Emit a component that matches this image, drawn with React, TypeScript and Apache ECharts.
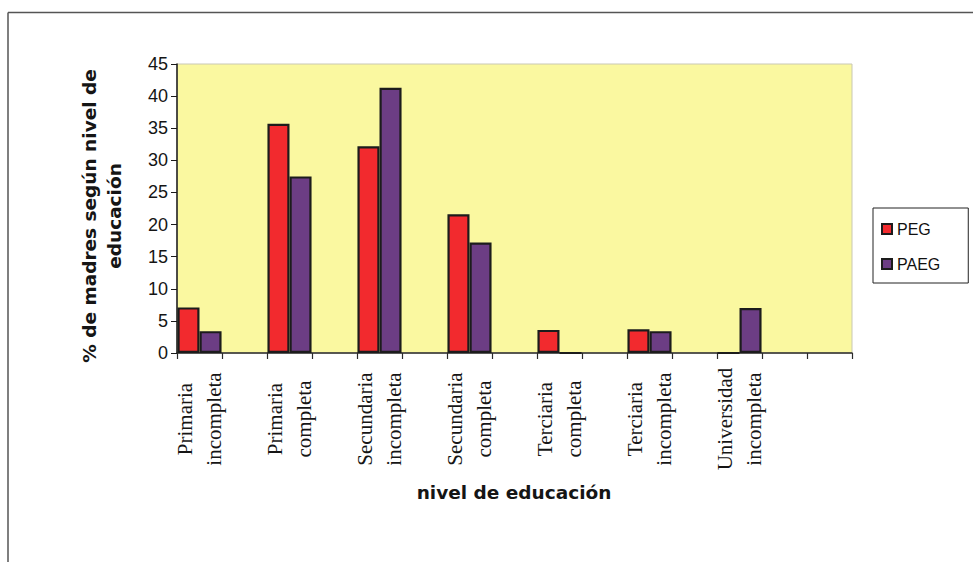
import React, { useEffect, useRef } from "react";
import * as echarts from "echarts";

const categories = [
  "Primaria\nincompleta",
  "Primaria\ncompleta",
  "Secundaria\nincompleta",
  "Secundaria\ncompleta",
  "Terciaria\ncompleta",
  "Terciaria\nincompleta",
  "Universidad\nincompleta",
];
const pegValues = [7.1, 35.7, 32.2, 21.6, 3.6, 3.7, 0];
const paegValues = [3.4, 27.5, 41.3, 17.2, 0, 3.4, 7.0];
const seriesNames = ["PEG", "PAEG"];
const yMin = 0;
const yMax = 45;
const yStep = 5;
const yTitle = "% de madres según nivel de\neducación";
const xTitle = "nivel de educación";

// The original chart interleaves an empty category after each level (15 slots).
const slotLabels = [...categories.flatMap((c) => [c, ""]), ""];
const toSlots = (vals: number[]) => [
  ...vals.flatMap((v) => [v, null as number | null]),
  null as number | null,
];

export default function App() {
  const ref = useRef<HTMLDivElement>(null);
  useEffect(() => {
    if (!ref.current) return;
    const chart = echarts.init(ref.current, undefined, { renderer: "svg" });
    const sans = "DejaVu Sans";
    chart.setOption({
      animation: false,
      backgroundColor: "#ffffff",
      grid: {
        left: 177,
        top: 64,
        right: 121,
        bottom: 209,
        show: true,
        backgroundColor: "#FAF8A0",
        borderColor: "#C9C8B4",
        borderWidth: 1,
      },
      legend: {
        orient: "vertical",
        left: 873,
        top: 208,
        padding: [13, 28, 11, 8],
        itemWidth: 10,
        itemHeight: 10,
        itemGap: 19,
        icon: "rect",
        borderColor: "#222",
        borderWidth: 1,
        backgroundColor: "#fff",
        textStyle: {
          fontFamily: "Liberation Sans",
          fontSize: 16,
          color: "#111",
        },
        data: seriesNames,
      },
      xAxis: {
        type: "category",
        data: slotLabels,
        boundaryGap: true,
        axisLine: { lineStyle: { color: "#2a2a2a", width: 1.5 } },
        axisTick: {
          show: true,
          interval: 0,
          length: 6,
          lineStyle: { color: "#2a2a2a", width: 1.2 },
        },
        axisLabel: {
          interval: 0,
          rotate: 90,
          align: "center",
          verticalAlign: "middle",
          margin: 66,
          fontFamily: "Liberation Serif",
          fontSize: 21,
          lineHeight: 29,
          color: "#151515",
        },
        splitLine: { show: false },
      },
      yAxis: {
        type: "value",
        min: yMin,
        max: yMax,
        interval: yStep,
        axisLine: { show: true, lineStyle: { color: "#1a1a1a", width: 1.5 } },
        axisTick: { show: true, length: 6, lineStyle: { color: "#1a1a1a" } },
        axisLabel: {
          margin: 9,
          fontFamily: "Liberation Sans",
          fontSize: 18,
          color: "#151515",
        },
        splitLine: { show: false },
      },
      series: [
        {
          name: seriesNames[0],
          type: "bar",
          data: toSlots(pegValues),
          barGap: "0%",
          barCategoryGap: "2%",
          itemStyle: { color: "#F22A2E", borderColor: "#1c1c1c", borderWidth: 2.2 },
        },
        {
          name: seriesNames[1],
          type: "bar",
          data: toSlots(paegValues),
          barGap: "0%",
          barCategoryGap: "2%",
          itemStyle: { color: "#6C3D84", borderColor: "#1c1c1c", borderWidth: 2.2 },
        },
      ],
      graphic: [
        {
          type: "line",
          shape: { x1: 8, y1: 12.5, x2: 980, y2: 12.5 },
          style: { stroke: "#555", lineWidth: 1.5 },
        },
        {
          type: "line",
          shape: { x1: 8, y1: 12.5, x2: 8, y2: 570 },
          style: { stroke: "#555", lineWidth: 1.5 },
        },
        {
          type: "text",
          x: 102,
          y: 216,
          rotation: Math.PI / 2,
          style: {
            text: yTitle,
            fontFamily: sans,
            fontWeight: "bold",
            fontSize: 18.5,
            lineHeight: 25,
            align: "center",
            verticalAlign: "middle",
            fill: "#151515",
          },
        },
        {
          type: "text",
          x: 514,
          y: 492,
          style: {
            text: xTitle,
            fontFamily: sans,
            fontWeight: "bold",
            fontSize: 18.5,
            align: "center",
            verticalAlign: "middle",
            fill: "#151515",
          },
        },
      ],
    });
    return () => chart.dispose();
  }, []);
  return (
    <div
      ref={ref}
      style={{ position: "absolute", left: 0, top: 0, width: 973, height: 562 }}
    />
  );
}
